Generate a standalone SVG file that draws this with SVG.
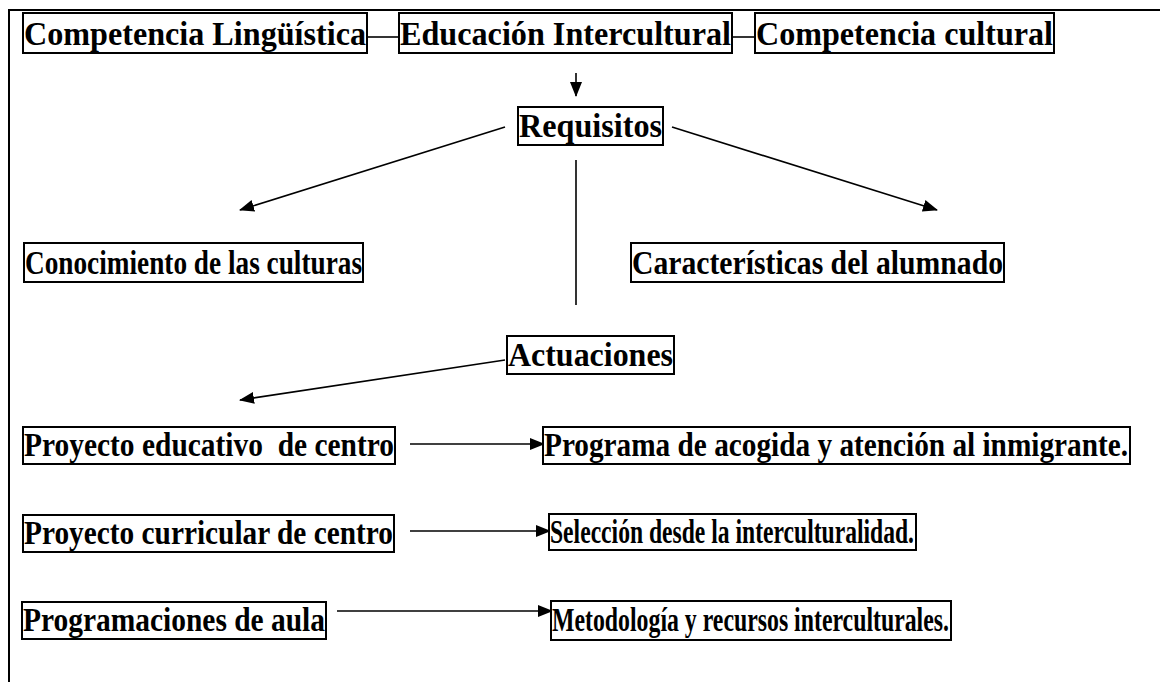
<svg xmlns="http://www.w3.org/2000/svg" width="1160" height="682" viewBox="0 0 1160 682">
<style>
.box{fill:#fff;stroke:#000;stroke-width:2}
.t{font-family:"Liberation Serif","Times New Roman",serif;font-weight:bold;font-size:34px;fill:#000}
.c{stroke:#000;stroke-width:1.6;fill:none}
.frame{stroke:#000;stroke-width:2;fill:none}
</style>
<defs>
<marker id="ah" markerUnits="userSpaceOnUse" markerWidth="15" markerHeight="12" refX="14" refY="6" orient="auto">
<path d="M0,0 L15,6 L0,12 Z" fill="#000"/>
</marker>
</defs>
<rect width="1160" height="682" fill="#fff"/>
<path class="frame" d="M1160,10 H9 V682"/>
<g id="connectors">
<line class="c" x1="367" y1="37" x2="399" y2="37"/>
<line class="c" x1="732" y1="37" x2="755" y2="37"/>
<line class="c" x1="576" y1="73" x2="576" y2="96" marker-end="url(#ah)"/>
<line class="c" x1="505" y1="127" x2="240" y2="210" marker-end="url(#ah)"/>
<line class="c" x1="672" y1="127" x2="937" y2="210" marker-end="url(#ah)"/>
<line class="c" x1="576" y1="160" x2="576" y2="305"/>
<line class="c" x1="505" y1="360" x2="240" y2="400" marker-end="url(#ah)"/>
<line class="c" x1="410" y1="444" x2="544" y2="444" marker-end="url(#ah)"/>
<line class="c" x1="410" y1="531" x2="550" y2="531" marker-end="url(#ah)"/>
<line class="c" x1="337" y1="611" x2="552" y2="611" marker-end="url(#ah)"/>
</g>
<g id="n1"><rect class="box" x="23" y="13" width="344" height="40"/><text class="t" x="24" y="45" textLength="342" lengthAdjust="spacingAndGlyphs">Competencia Lingüística</text></g>
<g id="n2"><rect class="box" x="399" y="13" width="333" height="40"/><text class="t" x="400" y="45" textLength="331" lengthAdjust="spacingAndGlyphs">Educación Intercultural</text></g>
<g id="n3"><rect class="box" x="755" y="13" width="299" height="40"/><text class="t" x="756" y="45" textLength="297" lengthAdjust="spacingAndGlyphs">Competencia cultural</text></g>
<g id="n4"><rect class="box" x="518" y="107" width="145" height="38"/><text class="t" x="519" y="137" textLength="143" lengthAdjust="spacingAndGlyphs">Requisitos</text></g>
<g id="n5"><rect class="box" x="24" y="243" width="339" height="39"/><text class="t" x="25" y="274" textLength="337" lengthAdjust="spacingAndGlyphs">Conocimiento de las culturas</text></g>
<g id="n6"><rect class="box" x="631" y="243" width="373" height="39"/><text class="t" x="632" y="274" textLength="371" lengthAdjust="spacingAndGlyphs">Características del alumnado</text></g>
<g id="n7"><rect class="box" x="507" y="336" width="167" height="38"/><text class="t" x="508" y="366" textLength="165" lengthAdjust="spacingAndGlyphs">Actuaciones</text></g>
<g id="n8"><rect class="box" x="23" y="427" width="372" height="37"/><text class="t" x="24" y="456" textLength="370" lengthAdjust="spacingAndGlyphs" xml:space="preserve">Proyecto educativo  de centro</text></g>
<g id="n9"><rect class="box" x="543" y="427" width="587" height="37"/><text class="t" x="544" y="456" textLength="584" lengthAdjust="spacingAndGlyphs">Programa de acogida y atención al inmigrante.</text></g>
<g id="n10"><rect class="box" x="23" y="515" width="371" height="37"/><text class="t" x="24" y="544" textLength="369" lengthAdjust="spacingAndGlyphs">Proyecto curricular de centro</text></g>
<g id="n11"><rect class="box" x="549" y="514" width="367" height="36"/><text class="t" x="550" y="543" textLength="364" lengthAdjust="spacingAndGlyphs">Selección desde la interculturalidad.</text></g>
<g id="n12"><rect class="box" x="22" y="602" width="304" height="37"/><text class="t" x="23" y="631" textLength="302" lengthAdjust="spacingAndGlyphs">Programaciones de aula</text></g>
<g id="n13"><rect class="box" x="551" y="601" width="400" height="39"/><text class="t" x="552" y="631" textLength="397" lengthAdjust="spacingAndGlyphs">Metodología y recursos interculturales.</text></g>
</svg>
